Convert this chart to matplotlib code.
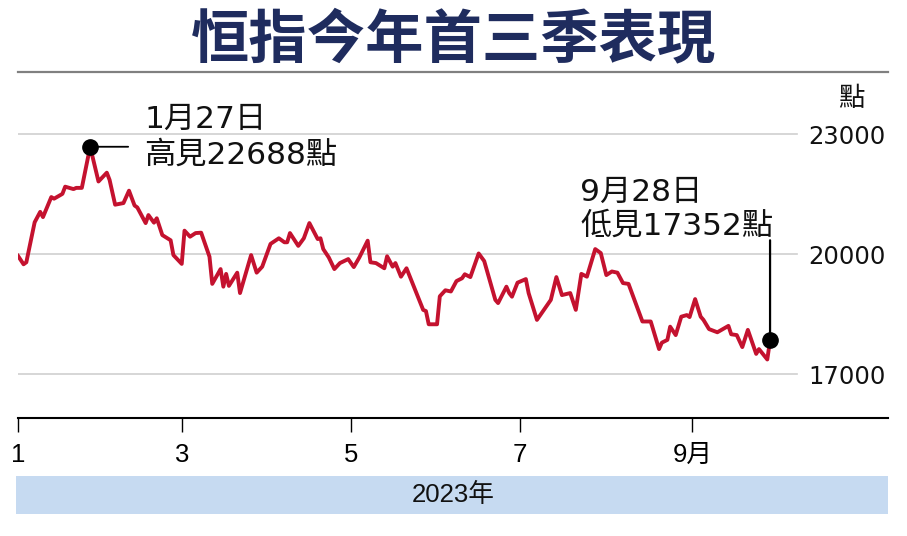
import matplotlib
matplotlib.use('Agg')
import matplotlib.pyplot as plt
from matplotlib.lines import Line2D
from matplotlib.patches import Rectangle
import numpy as np

# ---------------- data (day of year, 0 = 1 Jan 2023) ----------------
day_of_year = [0, 2, 3, 6, 8, 9, 12, 13, 16, 17,
               20, 21, 23, 26, 29, 32, 33, 35, 38, 40,
               42, 43, 46, 47, 49, 50, 52, 55, 56, 59,
               60, 62, 64, 66, 69, 70, 73, 74, 75, 76,
               79, 80, 84, 86, 88, 91, 94, 96, 97, 98,
               101, 103, 105, 108, 109, 110, 112, 114, 116, 119,
               121, 123, 126, 127, 129, 132, 133, 135, 136, 138,
               140, 146, 147, 148, 151, 152, 154, 156, 158, 160,
               161, 163, 166, 168, 172, 173, 176, 177, 178, 180,
               183, 184, 187, 192, 194, 196, 199, 201, 203, 205,
               208, 210, 212, 214, 216, 218, 220, 225, 228, 231,
               232, 234, 235, 237, 239, 241, 242, 244, 246, 247,
               249, 252, 256, 257, 259, 261, 263, 266, 267, 270,
               271]
hsi = [19960, 19750, 19800, 20800, 21060, 20930, 21430, 21390, 21510, 21690,
       21630, 21660, 21660, 22688, 21820, 22040, 21860, 21240, 21280, 21590,
       21220, 21170, 20780, 20980, 20790, 20900, 20480, 20350, 19980, 19760,
       20590, 20440, 20530, 20540, 19940, 19260, 19630, 19190, 19510, 19210,
       19540, 19030, 19980, 19540, 19690, 20260, 20400, 20300, 20300, 20530,
       20210, 20400, 20780, 20380, 20400, 20130, 19920, 19630, 19780, 19880,
       19680, 19920, 20340, 19800, 19780, 19650, 19950, 19690, 19780, 19440,
       19650, 18610, 18580, 18250, 18250, 18950, 19100, 19070, 19330, 19400,
       19500, 19430, 20020, 19830, 18860, 18780, 19190, 19030, 18940, 19290,
       19380, 19030, 18360, 18860, 19430, 18980, 19030, 18610, 19510, 19440,
       20130, 20030, 19480, 19570, 19540, 19280, 19260, 18320, 18320, 17630,
       17790, 17860, 18190, 17980, 18440, 18480, 18430, 18880, 18440, 18360,
       18130, 18050, 18210, 18000, 17980, 17680, 18110, 17510, 17630, 17370,
       17850]

month_start_days = [0, 59, 120, 181, 243]
month_labels = ['1', '3', '5', '7', '9月']
y_ticks = [17000, 20000, 23000]
y_labels = ['17000', '20000', '23000']

title = '恒指今年首三季表現'
unit = '點'
year_label = '2023年'
high_date, high_text = '1月27日', '高見22688點'
low_date, low_text = '9月28日', '低見17352點'

# ---------------- layout helpers ----------------
W, H = 907, 536
fig = plt.figure(figsize=(W / 100, H / 100), dpi=100)


def fx(px):
    return px / W


def fy(py):
    return 1 - py / H


CJK = 'Noto Sans CJK TC'
WIDE = ['DejaVu Sans', CJK]
NORM = ['Liberation Sans', CJK]

ax = fig.add_axes([fx(18), fy(418), fx(888) - fx(18), fy(80) - fy(418)])
ax.set_xlim(0.07, 313.5)
ax.set_ylim(15907, 24357)

for v in y_ticks:
    ax.axhline(v, xmin=0, xmax=(797 - 18) / 870, color='#cfcfcf', lw=1.2, zorder=0)

ax.plot(day_of_year, hsi, color='#c4122f', lw=2.8, zorder=3)

ipk = int(np.argmax(hsi))
ax.plot(day_of_year[ipk], hsi[ipk], 'o', color='black', ms=11, zorder=5)
ax.annotate('', xy=(day_of_year[ipk], hsi[ipk]), xytext=(38, 0),
            textcoords='offset pixels',
            arrowprops=dict(arrowstyle='-', color='black', lw=1.3,
                            shrinkA=0, shrinkB=0))
ax.plot(day_of_year[-1], hsi[-1], 'o', color='black', ms=11, zorder=5)
ax.annotate('', xy=(day_of_year[-1], hsi[-1]), xytext=(0, 100),
            textcoords='offset pixels',
            arrowprops=dict(arrowstyle='-', color='black', lw=1.6,
                            shrinkA=0, shrinkB=0))

for s in ['top', 'left', 'right']:
    ax.spines[s].set_visible(False)
ax.spines['bottom'].set_linewidth(1.5)
ax.spines['bottom'].set_color('black')

ax.set_xticks(month_start_days)
ax.set_xticklabels(month_labels)
ax.tick_params(axis='x', length=10, width=1, pad=8, labelsize=18.5, direction='out')
for lbl in ax.get_xticklabels():
    lbl.set_fontfamily(NORM)

ax.yaxis.tick_right()
ax.set_yticks(y_ticks)
ax.set_yticklabels(y_labels)
ax.tick_params(axis='y', length=0, pad=-57.6, labelsize=17.5)
for lbl in ax.get_yticklabels():
    lbl.set_fontfamily(WIDE)
    lbl.set_color('#111111')

# title and rule
fig.text(fx(453.5), fy(40), title, ha='center', va='center', fontsize=42,
         fontweight='heavy', color='#1f2c5e', family=CJK)
fig.add_artist(Line2D([fx(18), fx(888)], [fy(72), fy(72)], color='#808080', lw=1.6))

fig.text(fx(851), fy(99), unit, ha='center', va='center', fontsize=19,
         family=CJK, color='#111111')

# annotations
fig.text(fx(145), fy(119), high_date, ha='left', va='center', fontsize=22.5,
         family=WIDE, color='#111111')
fig.text(fx(144), fy(155), high_text, ha='left', va='center', fontsize=22.5,
         family=WIDE, color='#111111')
fig.text(fx(580), fy(192), low_date, ha='left', va='center', fontsize=22.5,
         family=WIDE, color='#111111')
fig.text(fx(580), fy(226), low_text, ha='left', va='center', fontsize=22.5,
         family=WIDE, color='#111111')

# year band
fig.add_artist(Rectangle((fx(16), fy(514)), fx(888) - fx(16), fy(476) - fy(514),
                         transform=fig.transFigure, facecolor='#c6daf1',
                         edgecolor='none'))
fig.text(fx(453), fy(495), year_label, ha='center', va='center', fontsize=18.5,
         family=NORM, color='#111111')

fig.savefig('out.png', dpi=100)
